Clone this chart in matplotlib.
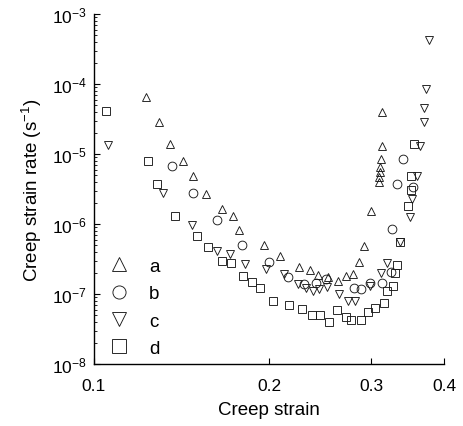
import matplotlib
matplotlib.use("Agg")
import matplotlib.pyplot as plt
from matplotlib.ticker import LogLocator, NullLocator, FixedLocator, FixedFormatter

plt.rcParams["font.family"] = ["Liberation Sans", "DejaVu Sans"]
plt.rcParams["mathtext.fontset"] = "custom"
plt.rcParams["mathtext.rm"] = "Liberation Sans"
plt.rcParams["mathtext.it"] = "Liberation Sans:italic"
plt.rcParams["mathtext.bf"] = "Liberation Sans:bold"

# series a (up triangles)
a_strain = [0.1227, 0.1294, 0.1352, 0.1425, 0.1479, 0.1559, 0.1659, 0.1733, 0.1779,
            0.1962, 0.2090, 0.2253, 0.2348, 0.2432, 0.2522, 0.2633, 0.2715, 0.2788,
            0.2855, 0.2908, 0.2992, 0.3088, 0.3094, 0.3107, 0.3107, 0.3113, 0.3128, 0.3128]
a_rate = [6.46e-5, 2.84e-5, 1.39e-5, 8.02e-6, 4.90e-6, 2.64e-6, 1.64e-6, 1.31e-6, 8.29e-7,
          5.01e-7, 3.52e-7, 2.43e-7, 2.17e-7, 1.87e-7, 1.75e-7, 1.53e-7, 1.79e-7, 1.90e-7,
          2.91e-7, 4.90e-7, 1.51e-6, 3.98e-6, 4.69e-6, 5.53e-6, 6.52e-6, 8.49e-6, 1.31e-5, 4.02e-5]

# series b (circles)
b_strain = [0.1361, 0.1479, 0.1626, 0.1796, 0.2002, 0.2160, 0.2293, 0.2405, 0.2510,
            0.2803, 0.2878, 0.2980, 0.3128, 0.3245, 0.3260, 0.3319, 0.3407, 0.3536]
b_rate = [6.81e-6, 2.75e-6, 1.14e-6, 5.01e-7, 2.86e-7, 1.73e-7, 1.40e-7, 1.42e-7, 1.64e-7,
          1.23e-7, 1.18e-7, 1.45e-7, 1.45e-7, 2.04e-7, 8.40e-7, 3.77e-6, 8.49e-6, 3.43e-6]

# series c (down triangles)
c_strain = [0.1057, 0.1315, 0.1473, 0.1626, 0.1715, 0.1820, 0.1977, 0.2123, 0.2244,
            0.2317, 0.2379, 0.2439, 0.2515, 0.2644, 0.2740, 0.2814, 0.2978, 0.3115,
            0.3194, 0.3363, 0.3499, 0.3523, 0.3601, 0.3640, 0.3698, 0.3698, 0.3727, 0.3762]
c_rate = [1.34e-5, 2.77e-6, 9.77e-7, 4.16e-7, 3.73e-7, 2.64e-7, 2.28e-7, 1.93e-7, 1.40e-7,
          1.20e-7, 1.12e-7, 1.16e-7, 1.26e-7, 1.00e-7, 8.02e-8, 8.02e-8, 1.29e-7, 2.00e-7,
          2.77e-7, 5.48e-7, 1.26e-6, 2.30e-6, 4.90e-6, 1.31e-5, 2.84e-5, 4.50e-5, 8.49e-5, 4.30e-4]

# series d (squares)
d_strain = [0.1047, 0.1240, 0.1284, 0.1378, 0.1506, 0.1569, 0.1659, 0.1722, 0.1805,
            0.1868, 0.1931, 0.2035, 0.2168, 0.2280, 0.2370, 0.2449, 0.2541, 0.2616,
            0.2710, 0.2770, 0.2878, 0.2962, 0.3046, 0.3156, 0.3194, 0.3271, 0.3297,
            0.3323, 0.3363, 0.3475, 0.3506, 0.3513, 0.3545]
d_rate = [4.07e-5, 8.02e-6, 3.73e-6, 1.29e-6, 6.67e-7, 4.65e-7, 2.99e-7, 2.77e-7, 1.82e-7,
          1.47e-7, 1.20e-7, 8.07e-8, 7.03e-8, 6.11e-8, 5.01e-8, 5.01e-8, 4.02e-8, 5.91e-8,
          4.69e-8, 4.32e-8, 4.32e-8, 5.48e-8, 6.31e-8, 7.44e-8, 1.10e-7, 1.28e-7, 2.00e-7,
          2.57e-7, 5.48e-7, 1.81e-6, 3.06e-6, 4.90e-6, 1.39e-5]

x_ticks = [0.1, 0.2, 0.3, 0.4]
x_tick_labels = ["0.1", "0.2", "0.3", "0.4"]

series = [
    ("a", a_strain, a_rate, "^"),
    ("b", b_strain, b_rate, "o"),
    ("c", c_strain, c_rate, "v"),
    ("d", d_strain, d_rate, "s"),
]

fig = plt.figure(figsize=(4.63, 4.27), dpi=100)
ax = fig.add_axes([94 / 463, 1 - 365 / 427, 350 / 463, 350 / 427])

for name, xs, ys, marker in series:
    ax.plot(xs, ys, linestyle="none", marker=marker, markersize=6.3,
            markerfacecolor="none", markeredgecolor="#1a1a1a", markeredgewidth=0.65,
            label=name)

ax.set_xscale("log")
ax.set_yscale("log")
ax.set_xlim(0.1, 0.4)
ax.set_ylim(1e-8, 1e-3)

ax.xaxis.set_major_locator(FixedLocator(x_ticks))
ax.xaxis.set_major_formatter(FixedFormatter(x_tick_labels))
ax.xaxis.set_minor_locator(NullLocator())
ax.yaxis.set_major_locator(LogLocator(base=10, numticks=10))
ax.yaxis.set_minor_locator(LogLocator(base=10, subs=range(2, 10), numticks=20))

ax.spines["top"].set_visible(False)
ax.spines["right"].set_visible(False)
for sp in ("left", "bottom"):
    ax.spines[sp].set_linewidth(1.0)

ax.tick_params(axis="both", which="major", direction="in", length=4, width=0.8,
               labelsize=12.5, pad=5)
ax.tick_params(axis="x", which="major", pad=10)
ax.tick_params(axis="y", which="minor", direction="in", length=2.5, width=0.6)

ax.set_xlabel("Creep strain", fontsize=13.5, labelpad=6)
ax.set_ylabel("Creep strain rate (s$^{-1}$)", fontsize=13.5, labelpad=6)

ax.legend(loc="lower left", bbox_to_anchor=(0.045, 0.02), frameon=False,
          fontsize=13.5, markerscale=1.5, handlelength=1.0, handletextpad=1.1,
          labelspacing=0.55, borderpad=0, borderaxespad=0)

fig.savefig("out.png", dpi=100)
